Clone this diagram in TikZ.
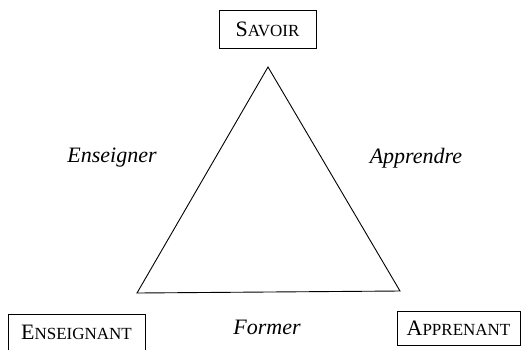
\documentclass[tikz,border=0pt]{standalone}
\usepackage{fontspec}
\setmainfont{Liberation Serif}
\usetikzlibrary{positioning}
\newcommand{\petitcap}[2]{#1{\fontsize{17}{20}\selectfont #2}}
\tikzset{
	pole/.style={draw, line width=1pt, inner sep=0pt, font=\fontsize{22}{26}\selectfont},
	action/.style={font=\fontsize{22}{26}\selectfont\itshape}
}

\begin{document}
\begin{tikzpicture}[x=1pt, y=-1pt]
			\useasboundingbox (0,0) rectangle (521,349);
			\coordinate (sommet) at (268,67);
			\coordinate (gauche) at (137,293);
			\coordinate (droite) at (400,291);
			\node[pole, minimum width=97pt, minimum height=38pt] (savoir) at (267.5,29) {\petitcap{S}{AVOIR}};
			\node[pole, minimum width=137pt, minimum height=36pt] (enseignant) at (76.5,332) {\petitcap{E}{NSEIGNANT}};
			\node[pole, minimum width=123pt, minimum height=34pt] (apprenant) at (458.5,328) {\petitcap{A}{PPRENANT}};
			\node[action] (enseigner) at (112,158) {Enseigner};
			\node[action] (apprendre) at (416,158) {Apprendre};
			\node[action] (former) at (267,327) {Former};
			\draw [line width=0.9pt] (sommet) -- (droite) -- (gauche) -- cycle;
		\end{tikzpicture}
\end{document}
